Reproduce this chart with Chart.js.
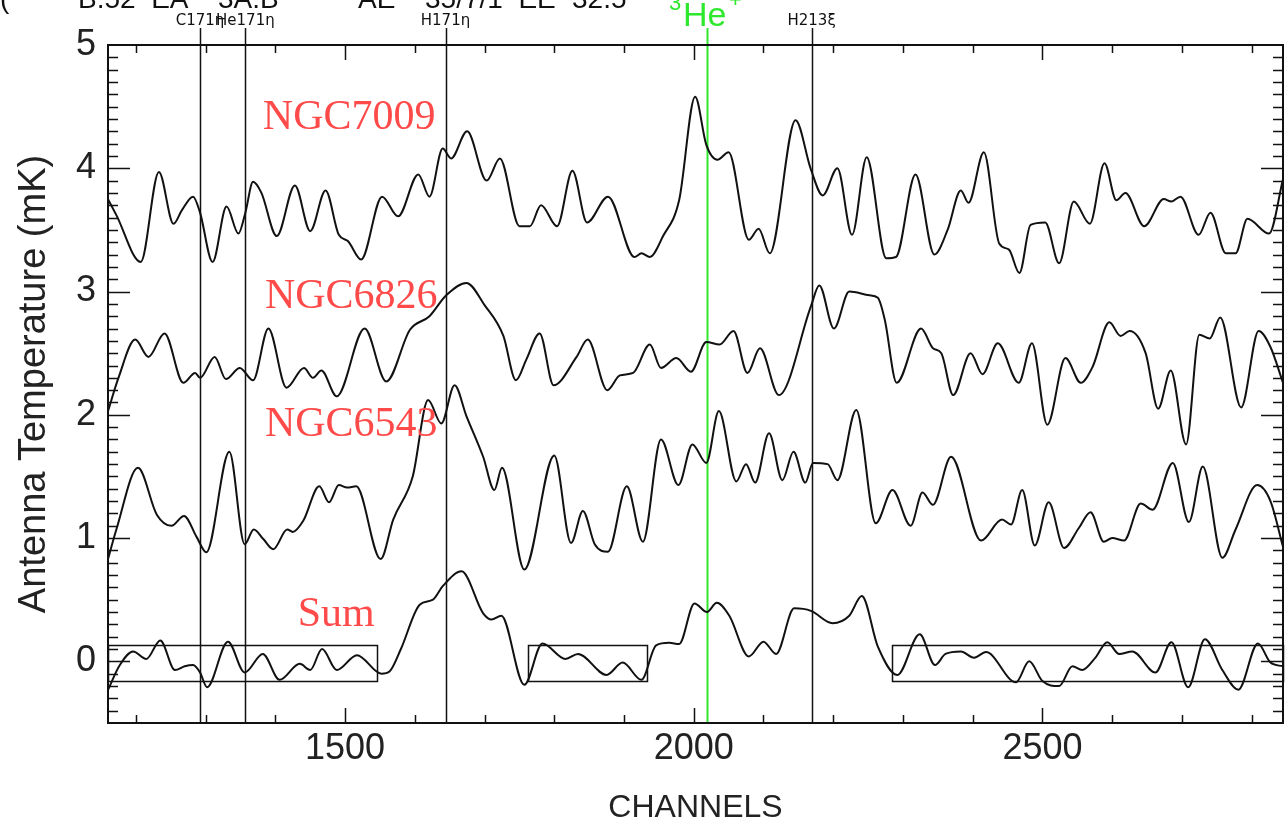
<!DOCTYPE html>
<html>
<head>
<meta charset="utf-8">
<script src="https://cdn.jsdelivr.net/npm/chart.js@4.4.0/dist/chart.umd.min.js"></script>
<style>
  html, body { margin: 0; padding: 0; background: #fff; }
  #wrap { width: 1286px; height: 827px; }
</style>
</head>
<body>
<div id="wrap"><canvas id="specChart" width="1286" height="827"></canvas></div>
<script>
// spectra: channel -> antenna temperature (mK)
const ngc7009Ch = [1160,1172,1207,1233,1254,1266,1282,1292,1310,1330,1347,1357,1368,1380,1402,1428,1450,1472,1491,1504,1523,1553,1576,1605,1621,1640,1652,1675,1703,1722,1750,1765,1781,1804,1826,1847,1877,1915,1925,1937,1956,1979,2002,2018,2034,2050,2079,2093,2109,2146,2168,2185,2206,2227,2248,2276,2290,2318,2345,2364,2383,2394,2416,2438,2452,2467,2483,2504,2524,2545,2568,2589,2606,2619,2646,2674,2685,2698,2724,2741,2763,2777,2794,2825,2845];
const ngc7009T  = [3.75,3.62,3.24,3.97,3.55,3.66,3.77,3.64,3.24,3.69,3.47,3.64,3.89,3.80,3.45,3.86,3.49,3.82,3.46,3.41,3.26,3.77,3.61,3.95,3.77,4.16,4.08,4.30,3.90,4.08,3.53,3.53,3.70,3.53,3.98,3.56,3.77,3.28,3.31,3.28,3.45,3.74,4.58,4.19,4.07,4.13,3.42,3.51,3.31,4.39,3.99,3.78,4.00,3.46,4.09,3.27,3.28,3.95,3.30,3.50,3.82,3.72,4.13,3.39,3.34,3.15,3.54,3.56,3.23,3.73,3.55,4.04,3.74,3.80,3.53,3.75,3.73,3.77,3.46,3.64,3.31,3.31,3.59,3.47,3.91];

const ngc6826Ch = [1160,1175,1199,1218,1241,1268,1285,1292,1313,1329,1349,1368,1390,1416,1441,1454,1466,1488,1528,1559,1593,1621,1645,1674,1700,1727,1745,1760,1779,1799,1832,1848,1876,1894,1913,1937,1953,1975,1996,2018,2037,2057,2077,2095,2122,2168,2180,2201,2223,2252,2264,2274,2291,2326,2343,2355,2372,2397,2414,2436,2466,2485,2507,2533,2555,2572,2596,2612,2625,2648,2666,2684,2706,2725,2740,2755,2785,2810,2827,2845];
const ngc6826T  = [2.03,2.30,2.61,2.47,2.66,2.26,2.34,2.30,2.47,2.29,2.38,2.28,2.70,2.22,2.38,2.30,2.36,2.15,2.70,2.27,2.69,2.80,2.97,3.07,2.89,2.64,2.28,2.45,2.66,2.24,2.47,2.61,2.20,2.32,2.34,2.57,2.38,2.46,2.35,2.59,2.57,2.68,2.34,2.54,2.16,2.88,3.05,2.70,3.00,2.97,2.95,2.77,2.26,2.70,2.54,2.50,2.16,2.50,2.33,2.58,2.26,2.58,1.92,2.46,2.26,2.39,2.75,2.64,2.68,2.50,2.05,2.36,1.76,2.65,2.62,2.79,2.06,2.68,2.55,2.26];

const ngc6543Ch = [1160,1172,1203,1230,1251,1269,1287,1301,1334,1356,1369,1383,1397,1417,1425,1440,1463,1477,1491,1503,1516,1551,1569,1597,1619,1638,1657,1674,1698,1714,1725,1757,1800,1824,1841,1858,1877,1904,1927,1953,1978,1998,2018,2036,2061,2075,2088,2108,2127,2143,2160,2171,2192,2206,2233,2261,2285,2311,2328,2343,2369,2412,2442,2455,2471,2489,2509,2531,2552,2569,2588,2600,2617,2641,2658,2687,2710,2730,2758,2777,2808,2827,2845];
const ngc6543T  = [0.83,1.07,1.57,1.19,1.10,1.18,1.01,0.885,1.70,0.95,1.07,0.99,0.91,1.07,1.05,1.14,1.42,1.29,1.43,1.41,1.42,0.83,1.15,1.50,2.12,1.93,2.24,1.99,1.66,1.39,1.57,0.745,1.67,0.96,1.22,0.95,0.89,1.42,0.97,1.80,1.43,1.76,1.61,2.03,1.46,1.60,1.45,1.85,1.47,1.70,1.45,1.61,1.60,1.47,2.04,1.12,1.39,1.10,1.37,1.27,1.66,0.98,1.15,1.11,1.39,0.94,1.29,0.92,1.08,1.21,0.97,1.00,0.98,1.28,1.23,1.61,1.13,1.58,0.84,1.07,1.43,1.30,0.93];

const sumCh = [1160,1177,1196,1215,1235,1256,1270,1282,1292,1302,1332,1356,1382,1406,1435,1450,1467,1488,1517,1552,1564,1580,1607,1626,1640,1667,1698,1710,1724,1757,1783,1816,1834,1875,1898,1925,1946,1965,1979,2001,2019,2033,2051,2079,2100,2118,2144,2168,2199,2223,2241,2264,2292,2324,2346,2361,2383,2402,2419,2462,2481,2500,2524,2543,2557,2576,2593,2610,2629,2662,2685,2709,2733,2758,2781,2809,2827,2845];
const sumT  = [-0.23,-0.03,0.08,0.02,0.17,-0.07,-0.04,-0.03,-0.09,-0.21,0.16,-0.09,0.06,-0.15,-0.02,-0.07,0.10,-0.07,0.05,-0.10,-0.08,0.10,0.46,0.50,0.61,0.73,0.39,0.34,0.37,-0.19,0.145,0.02,0.06,-0.11,-0.01,-0.15,0.13,0.15,0.14,0.47,0.40,0.475,0.37,0.04,0.16,0.06,0.43,0.41,0.31,0.37,0.53,0.12,-0.11,0.22,-0.03,0.06,0.08,0.03,0.075,-0.17,0.00,-0.16,-0.20,-0.04,-0.07,0.03,0.155,0.06,0.08,-0.09,0.155,-0.21,0.18,-0.07,-0.23,0.145,-0.01,-0.04];

// line markers along the top
const lineChannels = [1292, 1357, 1644, 2169];
const lineNames = ['C171\u03b7', 'He171\u03b7', 'H171\u03b7', 'H213\u03be'];
const he3Channel = 2019;

// baseline windows drawn as boxes on the sum spectrum
const boxStart = [1160, 1762, 2284];
const boxEnd = [1546, 1932, 2845];
const boxLow = -0.16, boxHigh = 0.13;

// source names and where they sit
const sourceNames = ['NGC7009', 'NGC6826', 'NGC6543', 'Sum'];
const nameCh = [1382, 1385, 1385, 1432];
const nameT = [4.41, 2.96, 1.92, 0.38];

const xTicks = [1500, 2000, 2500];
const yTicks = [0, 1, 2, 3, 4, 5];

const toPts = (ch, t) => ch.map((c, i) => ({ x: c, y: t[i] }));

function spec(label, ch, t) {
  return {
    label: label,
    data: toPts(ch, t),
    borderColor: '#111',
    borderWidth: 2,
    pointRadius: 0,
    fill: false,
    cubicInterpolationMode: 'monotone'
  };
}

const decor = {
  id: 'decor',
  beforeDatasetsDraw(chart) {
    const { ctx, chartArea: a, scales: { x } } = chart;
    ctx.save();
    ctx.lineWidth = 1.5;
    ctx.strokeStyle = '#111';
    lineChannels.forEach(c => {
      const px = Math.round(x.getPixelForValue(c)) + 0.5;
      ctx.beginPath();
      ctx.moveTo(px, a.top - 17);
      ctx.lineTo(px, a.bottom);
      ctx.stroke();
    });
    const gx = Math.round(x.getPixelForValue(he3Channel)) + 0.5;
    ctx.strokeStyle = '#2ee82e';
    ctx.lineWidth = 2;
    ctx.beginPath();
    ctx.moveTo(gx, a.top - 17);
    ctx.lineTo(gx, a.bottom);
    ctx.stroke();
    ctx.restore();
  },
  afterDatasetsDraw(chart) {
    const { ctx, chartArea: a, scales: { x, y } } = chart;
    ctx.save();

    // baseline boxes
    ctx.strokeStyle = '#111';
    ctx.lineWidth = 1.5;
    boxStart.forEach((s, i) => {
      const x0 = x.getPixelForValue(s), x1 = Math.min(x.getPixelForValue(boxEnd[i]), a.right);
      const y0 = y.getPixelForValue(boxHigh), y1 = y.getPixelForValue(boxLow);
      ctx.strokeRect(Math.round(x0) + 0.5, Math.round(y0) + 0.5, Math.round(x1 - x0), Math.round(y1 - y0));
    });

    // source names
    ctx.fillStyle = '#ff4a4a';
    ctx.font = '42px "Liberation Serif", "Times New Roman", serif';
    ctx.textAlign = 'left';
    ctx.textBaseline = 'middle';
    sourceNames.forEach((n, i) => {
      ctx.fillText(n, x.getPixelForValue(nameCh[i]), y.getPixelForValue(nameT[i]));
    });

    // frame
    ctx.lineWidth = 2;
    ctx.strokeStyle = '#111';
    ctx.strokeRect(a.left, a.top, a.right - a.left, a.bottom - a.top);

    // inward ticks
    ctx.lineWidth = 1.5;
    ctx.beginPath();
    for (let c = 1200; c <= 2800; c += 100) {
      const px = Math.round(x.getPixelForValue(c)) + 0.5;
      const len = c % 500 === 0 ? 15 : 8;
      ctx.moveTo(px, a.bottom); ctx.lineTo(px, a.bottom - len);
      ctx.moveTo(px, a.top); ctx.lineTo(px, a.top + len);
    }
    for (let i = -4; i <= 49; i++) {
      const py = Math.round(y.getPixelForValue(i / 10)) + 0.5;
      const len = i % 10 === 0 ? 22 : 10;
      ctx.moveTo(a.left, py); ctx.lineTo(a.left + len, py);
      ctx.moveTo(a.right, py); ctx.lineTo(a.right - len, py);
    }
    ctx.stroke();

    // line labels above the frame
    ctx.fillStyle = '#111';
    ctx.font = '15px "DejaVu Sans", sans-serif';
    ctx.textAlign = 'center';
    ctx.textBaseline = 'alphabetic';
    lineChannels.forEach((c, i) => {
      ctx.fillText(lineNames[i], x.getPixelForValue(c), 25);
    });

    // 3He+ label, cut by the top edge
    const gx = x.getPixelForValue(he3Channel);
    ctx.fillStyle = '#2ee82e';
    ctx.font = '34px "Liberation Sans", Arial, sans-serif';
    ctx.textAlign = 'left';
    ctx.fillText('He', gx - 24, 26);
    ctx.font = '22px "Liberation Sans", Arial, sans-serif';
    ctx.fillText('3', gx - 38, 10);
    ctx.fillText('+', gx + 22, 7);

    // header line, clipped by the top of the page
    ctx.fillStyle = '#111';
    ctx.font = '28px "Liberation Sans", Arial, sans-serif';
    ctx.fillText('(', 0, 8);
    ctx.fillText('B.52  EA', 78, 8);
    ctx.fillText('3A.B', 218, 8);
    ctx.fillText('AE', 358, 8);
    ctx.fillText('35/7/1  EE', 425, 8);
    ctx.fillText('32.5', 572, 8);
    ctx.restore();
  }
};

const tickFont = { family: '"Liberation Sans", Arial, sans-serif', size: 36 };

new Chart(document.getElementById('specChart'), {
  type: 'line',
  data: {
    datasets: [
      spec('NGC7009', ngc7009Ch, ngc7009T),
      spec('NGC6826', ngc6826Ch, ngc6826T),
      spec('NGC6543', ngc6543Ch, ngc6543T),
      spec('Sum', sumCh, sumT)
    ]
  },
  options: {
    responsive: false,
    animation: false,
    devicePixelRatio: 1,
    layout: { padding: { top: 45, right: 3, left: 0, bottom: 0 } },
    plugins: { legend: { display: false }, tooltip: { enabled: false } },
    scales: {
      x: {
        type: 'linear',
        min: 1160,
        max: 2845,
        grid: { display: false, drawTicks: false },
        border: { display: false },
        afterBuildTicks: s => { s.ticks = xTicks.map(v => ({ value: v })); },
        afterFit: s => { s.height = 104; },
        ticks: { color: '#222', font: tickFont, padding: 4, maxRotation: 0, callback: v => String(v) },
        title: {
          display: true, text: 'CHANNELS', color: '#222',
          font: { family: '"Liberation Sans", Arial, sans-serif', size: 32 },
          padding: { top: 0, bottom: 0 }
        }
      },
      y: {
        min: -0.5,
        max: 5,
        grid: { display: false, drawTicks: false },
        border: { display: false },
        afterBuildTicks: s => { s.ticks = yTicks.map(v => ({ value: v })); },
        afterFit: s => { s.width = 108; },
        ticks: { color: '#222', font: tickFont, padding: 12, callback: v => String(v) },
        title: {
          display: true, text: 'Antenna Temperature (mK)', color: '#222',
          font: { family: '"Liberation Sans", Arial, sans-serif', size: 38 },
          padding: { top: 12, bottom: 0 }
        }
      }
    }
  },
  plugins: [decor]
});
</script>
</body>
</html>
